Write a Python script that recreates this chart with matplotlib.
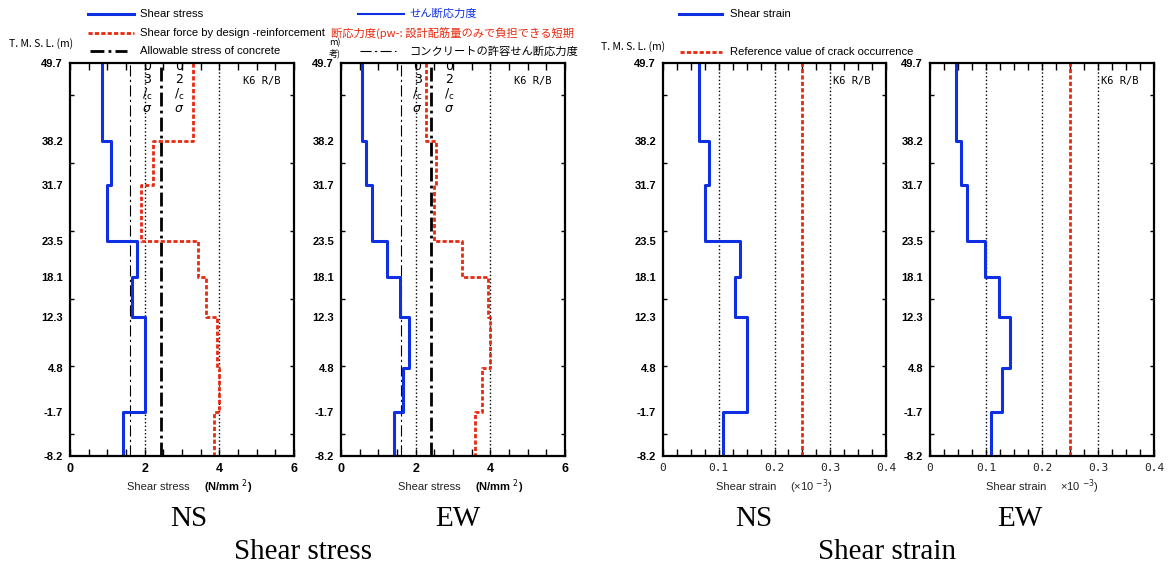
import numpy as np
import matplotlib
matplotlib.use("Agg")
import matplotlib.pyplot as plt
from matplotlib.lines import Line2D

plt.rcParams["font.family"] = ["Liberation Sans", "Noto Sans CJK JP", "DejaVu Sans"]

# ---- data -------------------------------------------------------------
levels = [49.7, 38.2, 31.7, 23.5, 18.1, 12.3, 4.8, -1.7, -8.2]
level_labels = ["49.7", "38.2", "31.7", "23.5", "18.1", "12.3", "4.8", "-1.7", "-8.2"]

# shear stress per storey segment (top to bottom), N/mm2
stress_ns = [0.85, 1.09, 1.00, 1.80, 1.67, 2.00, 2.00, 1.41]
stress_ew = [0.55, 0.66, 0.82, 1.24, 1.58, 1.83, 1.67, 1.41]
# short-term allowable shear by design reinforcement, N/mm2
design_ns = [3.29, 2.23, 1.90, 3.42, 3.65, 3.95, 4.00, 3.87]
design_ew = [2.27, 2.54, 2.49, 3.24, 3.94, 4.00, 3.78, 3.60]
# allowable stress of concrete (thick) and long-term value (thin)
allow_ns, allow_ew = 2.43, 2.40
allow_lt_ns, allow_lt_ew = 1.62, 1.60
stress_refs = [2.0, 4.0]

# shear strain per segment, x10^-3
strain_ns = [0.065, 0.082, 0.075, 0.139, 0.129, 0.151, 0.151, 0.108]
strain_ew = [0.046, 0.055, 0.066, 0.098, 0.124, 0.143, 0.129, 0.109]
crack_strain = 0.25
strain_refs = [0.1, 0.2, 0.3]

stress_ticks = [0, 2, 4, 6]
stress_ticklabels = ["0", "2", "4", "6"]
strain_ticks = [0, 0.1, 0.2, 0.3, 0.4]
strain_ticklabels = ["0", "0.1", "0.2", "0.3", "0.4"]

# ---- styling ----------------------------------------------------------
BLUE = "#0f2fe2"
RED = "#e8290f"
W, H = 1168, 565
fig = plt.figure(figsize=(W / 100, H / 100), dpi=100)


def px(x, y):
    return x / W, 1 - y / H


def box(l, r, t=63, b=456):
    return [l / W, 1 - b / H, (r - l) / W, (b - t) / H]


def profile(vals):
    xs = np.repeat(vals, 2)
    ys = np.column_stack([levels[:-1], levels[1:]]).ravel()
    return xs, ys


def setup(ax, xmax, ticks, ticklabels, minor_step, tick_font):
    ax.set_xlim(0, xmax)
    ax.set_ylim(-8.2, 49.7)
    ax.set_yticks(levels)
    ax.set_yticklabels(level_labels, fontsize=8, fontweight="bold")
    ax.set_yticks(np.arange(-5, 50, 10), minor=True)
    ax.tick_params(axis="y", which="major", length=0, pad=5)
    ax.tick_params(axis="y", which="minor", direction="in", length=3,
                   left=True, right=True, width=1)
    ax.set_xticks(ticks)
    ax.set_xticklabels(ticklabels, **tick_font)
    ax.set_xticks(np.arange(0, xmax + 1e-9, minor_step), minor=True)
    ax.tick_params(axis="x", which="both", direction="in", length=5,
                   top=True, bottom=True, width=1, pad=5)
    for s in ax.spines.values():
        s.set_linewidth(1.6)


red_dash = (0, (1.5, 0.8))
thick_dd = (0, (5, 1.5, 1, 1.5))
thin_dd = (0, (10, 3, 2, 3))

stress_font = dict(fontsize=9, fontweight="bold")
strain_font = dict(fontsize=8, family="DejaVu Sans Mono", color="#222222")

stress_panels = [
    (box(70, 294), stress_ns, design_ns, allow_ns, allow_lt_ns, (2.06, 2.92)),
    (box(341, 565), stress_ew, design_ew, allow_ew, allow_lt_ew, (2.05, 2.89)),
]
for rect, s, d, a, alt, (xa, xb) in stress_panels:
    ax = fig.add_axes(rect)
    setup(ax, 6, stress_ticks, stress_ticklabels, 0.5, stress_font)
    for xr in stress_refs:
        ax.axvline(xr, color="black", lw=1, ls=":")
    ax.axvline(alt, color="black", lw=0.8, ls=thin_dd)
    ax.axvline(a, color="black", lw=2, ls=thick_dd)
    xs, ys = profile(d)
    ax.plot(xs, ys, color=RED, lw=2, ls=red_dash)
    xs, ys = profile(s)
    ax.plot(xs, ys, color=BLUE, lw=2.2)
    for xc, den in ((xa, "3"), (xb, "2")):
        ax.text(xc, 50.2, "0\n" + den + "\n/$_{\\rm c}$\n$\\sigma$", ha="center",
                va="top", fontsize=9, linespacing=1.05, clip_on=True,
                family="DejaVu Sans")
    ax.text(0.94, 0.955, "K6 R/B", transform=ax.transAxes, ha="right",
            va="center", fontsize=7.5, family="DejaVu Sans Mono")

strain_panels = [(box(663, 886), strain_ns), (box(930, 1154), strain_ew)]
for rect, s in strain_panels:
    ax = fig.add_axes(rect)
    setup(ax, 0.4, strain_ticks, strain_ticklabels, 0.025, strain_font)
    for xr in strain_refs:
        ax.axvline(xr, color="black", lw=1, ls=":")
    ax.axvline(crack_strain, color=RED, lw=2, ls=red_dash)
    xs, ys = profile(s)
    ax.plot(xs, ys, color=BLUE, lw=2.2)
    ax.text(0.93, 0.955, "K6 R/B", transform=ax.transAxes, ha="right",
            va="center", fontsize=7.5, family="DejaVu Sans Mono")


# ---- legends, drawn in figure pixels ---------------------------------
def handle(x0, x1, y, **kw):
    (a, b), (c, d) = px(x0, y), px(x1, y)
    fig.add_artist(Line2D([a, c], [b, d], **kw))


def ftext(x, y, s, **kw):
    kw.setdefault("va", "center")
    fig.text(*px(x, y), s, **kw)


leg_font = dict(fontsize=8.1, family="Liberation Sans")
handle(88, 134, 14, color=BLUE, lw=2.2)
ftext(140, 14, "Shear stress", **leg_font)
handle(88, 134, 33, color=RED, lw=2, ls=red_dash)
ftext(140, 33, "Shear force by design -reinforcement", **leg_font)
handle(90, 127, 51, color="black", lw=2, ls=thick_dd)
ftext(140, 51, "Allowable stress of concrete", **leg_font)

jp = dict(fontsize=8.1, family="Noto Sans CJK JP")
handle(358, 404, 14, color=BLUE, lw=1.5)
ftext(409, 14, "せん断応力度", color=BLUE, **jp)
ftext(331, 33, "断応力度(pw-: 設計配筋量のみで負担できる短期", color=RED, **jp)
handle(360, 396, 51, color="black", lw=0.8, ls=thin_dd)
ftext(409, 51, "コンクリートの許容せん断応力度", color="black", **jp)
ftext(329, 43, "m)", fontsize=6.5, family="Noto Sans CJK JP")
ftext(329, 53, "考)", fontsize=6.5, family="Noto Sans CJK JP")

handle(679, 722, 14, color=BLUE, lw=2.2)
ftext(730, 14, "Shear strain", **leg_font)
handle(680, 722, 52, color=RED, lw=2, ls=red_dash)
ftext(730, 52, "Reference value of crack occurrence", **leg_font)

ylab = dict(fontsize=7.5, family="Noto Sans CJK JP")
ftext(9, 44, "T. M. S. L. (m)", **ylab)
ftext(601, 47, "T. M. S. L. (m)", **ylab)

# ---- axis titles -----------------------------------------------------
xl = dict(fontsize=8, family="Liberation Sans", color="#222222")
xu = dict(fontsize=8, fontweight="bold", family="Liberation Sans")
ftext(127, 487, "Shear stress", **xl)
ftext(204, 487, "(N/mm $^{2}$)", **xu)
ftext(398, 487, "Shear stress", **xl)
ftext(475, 487, "(N/mm $^{2}$)", **xu)
ftext(716, 487, "Shear strain", **xl)
ftext(790, 487, "(×10 $^{-3}$)", **xl)
ftext(986, 487, "Shear strain", **xl)
ftext(1060, 487, "×10 $^{-3}$)", **xl)

cap = dict(fontsize=21, family="Liberation Serif", ha="center")
ftext(189, 519, "NS", **cap)
ftext(458, 519, "EW", **cap)
ftext(303, 552, "Shear stress", **cap)
ftext(754, 519, "NS", **cap)
ftext(1020, 519, "EW", **cap)
ftext(887, 552, "Shear strain", **cap)

fig.savefig("out.png", dpi=100)
